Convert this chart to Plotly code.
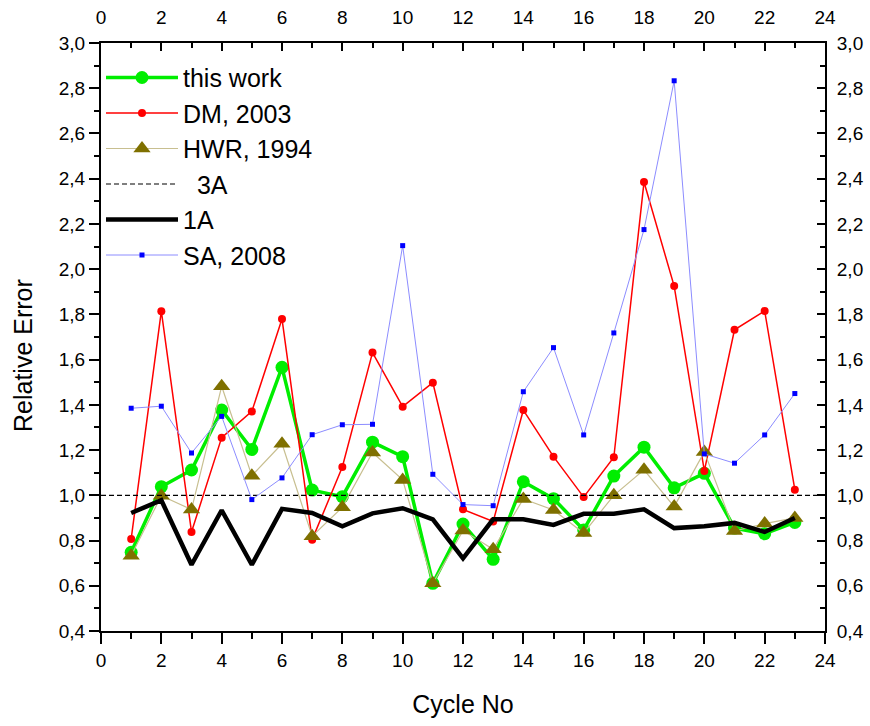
import plotly.graph_objects as go

cycles = list(range(1, 24))
this_work = [0.748, 1.038, 1.112, 1.377, 1.203, 1.566, 1.023, 0.994, 1.235, 1.171, 0.611, 0.873,
             0.717, 1.06, 0.985, 0.847, 1.085, 1.213, 1.033, 1.097, 0.855, 0.83, 0.88]
dm_2003 = [0.807, 1.814, 0.838, 1.255, 1.371, 1.78, 0.804, 1.125, 1.631, 1.392, 1.498, 0.938,
           0.884, 1.377, 1.171, 0.992, 1.168, 2.385, 1.925, 1.108, 1.732, 1.815, 1.025]
hwr_1994 = [0.733, 0.998, 0.937, 1.482, 1.087, 1.228, 0.819, 0.947, 1.189, 1.068, 0.611, 0.844,
            0.761, 0.984, 0.935, 0.833, 1.0, 1.113, 0.95, 1.192, 0.842, 0.875, 0.9]
one_a = [0.922, 0.978, 0.693, 0.934, 0.693, 0.94, 0.922, 0.863, 0.92, 0.943, 0.894, 0.721,
         0.894, 0.894, 0.869, 0.918, 0.918, 0.938, 0.855, 0.863, 0.878, 0.838, 0.9]
sa_2008 = [1.385, 1.394, 1.187, 1.349, 0.981, 1.077, 1.268, 1.312, 1.314, 2.104, 1.093, 0.959,
           0.954, 1.458, 1.653, 1.267, 1.718, 2.175, 2.833, 1.183, 1.142, 1.267, 1.45]
three_a_x = [0, 24]
three_a_y = [1.0, 1.0]

x_ticks = list(range(0, 25, 2))
y_ticks = [round(0.4 + 0.2 * i, 1) for i in range(14)]

FONT = "Liberation Sans, Arial, sans-serif"

fig = go.Figure()
fig.add_trace(go.Scatter(x=cycles, y=this_work, name="this work", mode="lines+markers",
                         line=dict(color="#00ee00", width=3.5),
                         marker=dict(color="#00ee00", size=13, symbol="circle"),
                         legendgroup="a"))
fig.add_trace(go.Scatter(x=cycles, y=dm_2003, name="DM, 2003", mode="lines+markers",
                         line=dict(color="#ff0000", width=1.5),
                         marker=dict(color="#ff0000", size=8, symbol="circle"),
                         legendgroup="b"))
fig.add_trace(go.Scatter(x=cycles, y=hwr_1994, name="HWR, 1994", mode="lines+markers",
                         line=dict(color="#c8bf90", width=1.2),
                         marker=dict(color="#7f7000", size=15, symbol="triangle-up"),
                         legendgroup="c"))
fig.add_trace(go.Scatter(x=three_a_x, y=three_a_y, name="\u00a0\u00a03A", mode="lines",
                         line=dict(color="#000000", width=1.2, dash="5px,3px"),
                         legendgroup="d"))
fig.add_trace(go.Scatter(x=cycles, y=one_a, name="1A", mode="lines",
                         line=dict(color="#000000", width=4.5),
                         legendgroup="e"))
fig.add_trace(go.Scatter(x=cycles, y=sa_2008, name="SA, 2008", mode="lines+markers",
                         line=dict(color="#8c8cff", width=1),
                         marker=dict(color="#0000ff", size=5, symbol="square"),
                         legendgroup="f"))
# helper trace so the top/right axes are drawn
fig.add_trace(go.Scatter(x=[None], y=[None], xaxis="x2", yaxis="y2", showlegend=False,
                         hoverinfo="skip"))

axis_common = dict(showgrid=False, zeroline=False, showline=True, linecolor="black",
                   linewidth=2, tickcolor="black", tickwidth=2, automargin=False,
                   tickfont=dict(family=FONT, size=19, color="black"))

fig.update_layout(
    width=870, height=726,
    margin=dict(l=101, r=45, t=43, b=95),
    paper_bgcolor="white", plot_bgcolor="white",
    separators=",.",
    font=dict(family=FONT, color="black"),
    showlegend=True,
    legend=dict(x=0.0, y=0.98, xanchor="left", yanchor="top",
                font=dict(family=FONT, size=25, color="black"),
                bgcolor="rgba(0,0,0,0)", itemwidth=72, tracegroupgap=0),
    xaxis=dict(range=[0, 24], tickvals=x_ticks, ticks="outside", ticklen=11,
               minor=dict(dtick=1, ticks="outside", ticklen=6, tickcolor="black", tickwidth=2),
               title=dict(text="Cycle No", font=dict(family=FONT, size=25), standoff=26),
               **axis_common),
    xaxis2=dict(range=[0, 24], tickvals=x_ticks, ticks="inside", ticklen=8, side="top",
                overlaying="x", matches="x", ticklabelstandoff=9,
                minor=dict(dtick=1, ticks="inside", ticklen=5, tickcolor="black", tickwidth=2),
                **axis_common),
    yaxis=dict(range=[0.4, 3.0], tickvals=y_ticks, tickformat=".1f", ticks="outside", ticklen=10,
               minor=dict(dtick=0.1, ticks="outside", ticklen=5, tickcolor="black", tickwidth=2),
               **axis_common),
    yaxis2=dict(range=[0.4, 3.0], tickvals=y_ticks, tickformat=".1f", ticks="inside", ticklen=8,
                side="right", overlaying="y", matches="y", ticklabelstandoff=6,
                minor=dict(dtick=0.1, ticks="inside", ticklen=5, tickcolor="black", tickwidth=2),
                **axis_common),
    annotations=[dict(text="Relative Error", xref="paper", yref="paper", x=-0.108, y=0.469,
                      textangle=-90, showarrow=False, xanchor="center", yanchor="middle",
                      font=dict(family=FONT, size=25, color="black"))],
)

fig.write_html("out.html")
